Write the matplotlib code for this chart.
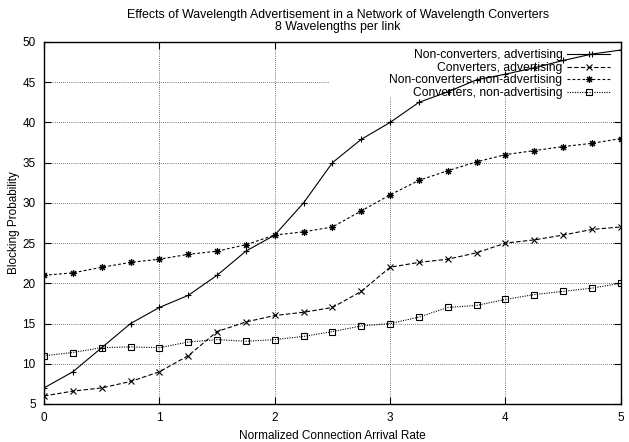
import matplotlib
matplotlib.use("Agg")
import matplotlib.pyplot as plt
from matplotlib.patches import Rectangle

plt.rcParams['font.family'] = ['Liberation Sans', 'DejaVu Sans']

# taxa de chegada normalizada
taxa = [0, 0.25, 0.5, 0.75, 1, 1.25, 1.5, 1.75, 2, 2.25, 2.5,
        2.75, 3, 3.25, 3.5, 3.75, 4, 4.25, 4.5, 4.75, 5]

nonconv_adv = [7, 9, 12, 15, 17, 18.5, 21, 24, 26, 30, 35,
               37.9, 40, 42.5, 43.8, 45.3, 46, 46.8, 47.7, 48.5, 49]
conv_adv = [6, 6.6, 7, 7.8, 9, 11, 14, 15.2, 16, 16.4, 17,
            19, 22, 22.6, 23, 23.8, 25, 25.4, 26, 26.7, 27]
nonconv_nonadv = [21, 21.3, 22, 22.6, 23, 23.6, 24, 24.8, 26, 26.4, 27,
                  29, 31, 32.8, 34, 35.1, 36, 36.5, 37, 37.4, 38]
conv_nonadv = [11, 11.4, 12, 12.1, 12, 12.7, 13, 12.8, 13, 13.4, 14,
               14.7, 15, 15.8, 17, 17.25, 18, 18.6, 19, 19.4, 20]

rotulos = ["Non-converters, advertising", "Converters, advertising",
           "Non-converters, non-advertising", "Converters, non-advertising"]

fig = plt.figure(figsize=(6.29, 4.42), dpi=100)
ax = fig.add_axes([0.070, 0.086, 0.917, 0.819])

ax.set_axisbelow(True)
ax.grid(True, color='black', linestyle=(0, (1, 2)), linewidth=0.5)

# caixa branca da legenda (cobre a grade como no gnuplot)
ax.add_patch(Rectangle((2.47, 43.2), 2.53, 6.8, facecolor='white',
                       edgecolor='none', zorder=0.8))

lw = 0.8
ax.plot(taxa, nonconv_adv, color='black', linewidth=lw, marker='+',
        markersize=5, markeredgewidth=0.8, label=rotulos[0], zorder=2)
ax.plot(taxa, conv_adv, color='black', linewidth=lw, linestyle=(0, (4, 2)),
        marker='x', markersize=4, markeredgewidth=0.8, label=rotulos[1], zorder=2)
ax.plot(taxa, nonconv_nonadv, color='black', linewidth=lw, linestyle=(0, (2.5, 2)),
        marker=(8, 2, 0), markersize=5, markeredgewidth=0.8, label=rotulos[2], zorder=2)
ax.plot(taxa, conv_nonadv, color='black', linewidth=lw, linestyle=(0, (1, 1.2)),
        marker='s', markersize=3.8, markerfacecolor='none', markeredgewidth=0.8,
        label=rotulos[3], zorder=2)

ax.set_xlim(0, 5)
ax.set_ylim(5, 50)
ax.set_xticks([0, 1, 2, 3, 4, 5])
ax.set_yticks([5, 10, 15, 20, 25, 30, 35, 40, 45, 50])
ax.tick_params(direction='in', top=True, right=True, length=5, width=0.8,
               labelsize=8.5, pad=6)
for s in ax.spines.values():
    s.set_linewidth(1.0)

ax.set_xlabel('Normalized Connection Arrival Rate', fontsize=8.5, labelpad=4)
ax.set_ylabel('Blocking Probability', fontsize=8.5, labelpad=2)
fig.suptitle('Effects of Wavelength Advertisement in a Network of Wavelength Converters\n'
             '8 Wavelengths per link', fontsize=8.9, y=0.98, x=0.537, linespacing=1.05)

leg = ax.legend(loc='upper right', markerfirst=False, frameon=False,
                fontsize=8.75, handlelength=3.5, handletextpad=0.4,
                labelspacing=0.05, borderaxespad=0, borderpad=0,
                bbox_to_anchor=(0.981, 0.98))
for t in leg.get_texts():
    t.set_ha('right')
leg.set_zorder(1)

plt.savefig('out.png', dpi=100)
